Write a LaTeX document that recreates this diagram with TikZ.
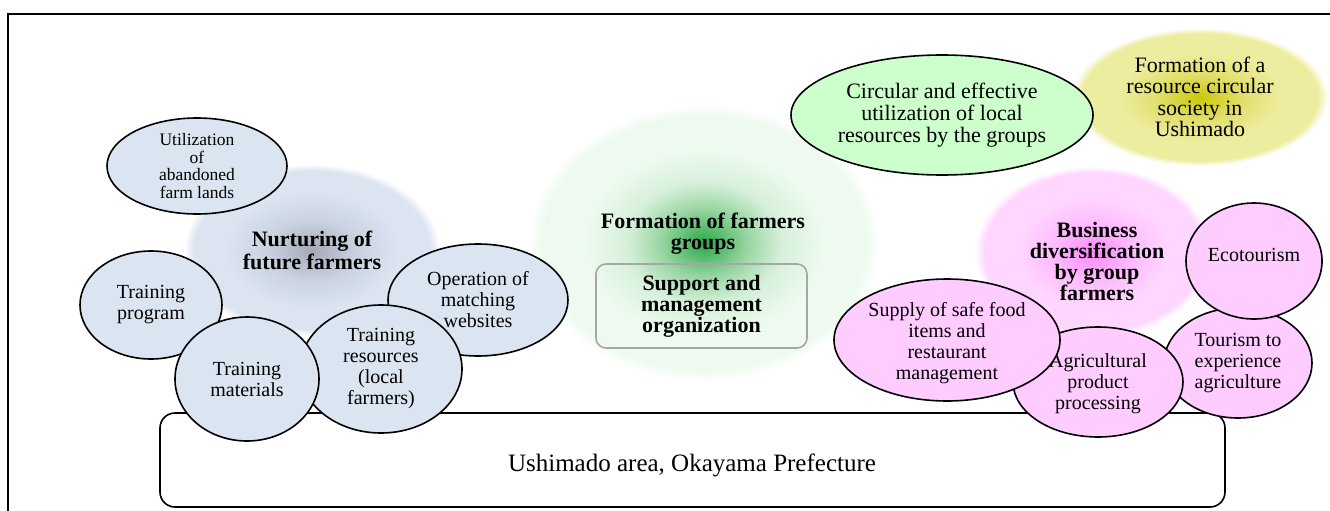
\documentclass[tikz,border=0pt]{standalone}
\usepackage{fontspec}
\setmainfont{Liberation Serif}
\usetikzlibrary{shapes.geometric}
\definecolor{bubblue}{RGB}{219,229,241}
\definecolor{bubpink}{RGB}{255,204,255}
\definecolor{bubgreen}{RGB}{204,255,204}
\definecolor{nurtC}{RGB}{164,169,184}
\definecolor{nurtM}{RGB}{203,211,225}
\definecolor{nurtL}{RGB}{219,228,240}
\definecolor{grnC}{RGB}{40,168,72}
\definecolor{grnM}{RGB}{150,212,160}
\definecolor{grnN}{RGB}{214,240,218}
\definecolor{grnL}{RGB}{238,250,239}
\definecolor{yelC}{RGB}{204,200,10}
\definecolor{yelM}{RGB}{224,222,105}
\definecolor{yelL}{RGB}{237,237,160}
\definecolor{pnkC}{RGB}{250,135,250}
\definecolor{pnkM}{RGB}{255,185,255}
\definecolor{pnkL}{RGB}{255,214,255}
\pgfdeclareradialshading{nurtshade}{\pgfpointorigin}{color(0bp)=(nurtC); color(9bp)=(nurtM); color(17bp)=(nurtL); color(23bp)=(nurtL); color(25bp)=(white); color(50bp)=(white)}
\pgfdeclareradialshading{grnshade}{\pgfpointorigin}{color(0bp)=(grnC); color(6bp)=(grnM); color(11bp)=(grnN); color(17bp)=(grnL); color(23bp)=(grnL); color(25bp)=(white); color(50bp)=(white)}
\pgfdeclareradialshading{yelshade}{\pgfpointorigin}{color(0bp)=(yelC); color(8bp)=(yelM); color(16bp)=(yelL); color(23bp)=(yelL); color(25bp)=(white); color(50bp)=(white)}
\pgfdeclareradialshading{pnkshade}{\pgfpointorigin}{color(0bp)=(pnkC); color(8bp)=(pnkM); color(16bp)=(pnkL); color(23bp)=(pnkL); color(25bp)=(white); color(50bp)=(white)}
\tikzset{
  bub/.style={ellipse, draw=black, line width=1.6, inner sep=0pt, align=center, font=\fontsize{20}{21}\selectfont},
  bluebub/.style={bub, fill=bubblue},
  pinkbub/.style={bub, fill=bubpink},
  blob/.style={ellipse, inner sep=0pt, align=center, font=\fontsize{22}{23}\selectfont\bfseries},
  titletext/.style={align=center, inner sep=0pt, font=\fontsize{22}{21}\selectfont\bfseries},
  plaintext/.style={align=center, inner sep=0pt, font=\fontsize{20}{21}\selectfont},
  groundbox/.style={draw=black, line width=1.6, rounded corners=15, inner sep=0pt},
  orgbox/.style={draw=black!35, line width=1.6, rounded corners=10, inner sep=0pt, align=center, font=\fontsize{22}{21}\selectfont\bfseries},
}
\begin{document}
\begin{tikzpicture}[x=1pt,y=-1pt]
\useasboundingbox (0,0) rectangle (1330,511);
% frame
\coordinate (fbl) at (8,530);
\coordinate (ftl) at (8,14);
\coordinate (ftr) at (1345,14);
\draw[line width=1.6] (fbl) -- (ftl) -- (ftr);
% ground
\node[groundbox, minimum width=1065, minimum height=94] (ground) at (692.5,460) {};
\node[font=\fontsize{25}{26}\selectfont, inner sep=0pt] (groundtext) at (692,465) {Ushimado area, Okayama Prefecture};
% soft blobs
\node[blob, shade, shading=nurtshade, minimum width=256, minimum height=172] (nurt) at (312,250) {Nurturing of\\future farmers};
\node[blob, shade, shading=grnshade, minimum width=352, minimum height=276] (grp) at (704,243) {};
\node[titletext] (grptext) at (703,234) {Formation of farmers\\groups};
\node[orgbox, minimum width=211, minimum height=84] (org) at (701.5,306) {Support and\\management\\organization};
\node[blob, shade, shading=yelshade, minimum width=256, minimum height=138, font=\fontsize{22}{21.5}\selectfont] (soc) at (1200,97) {Formation of a\\resource circular\\society in\\Ushimado};
\node[blob, shade, shading=pnkshade, minimum width=236, minimum height=172] (biz) at (1093,252) {};
\node[titletext] (biztext) at (1097,261) {Business\\diversification\\by group\\farmers};
% left cluster
\node[bluebub, minimum width=180, minimum height=96, font=\fontsize{17.5}{17.5}\selectfont] (util) at (197,166) {Utilization\\of\\abandoned\\farm lands};
\node[bluebub, minimum width=142, minimum height=108] (prog) at (151,305) {Training\\program};
\node[bluebub, minimum width=180, minimum height=112] (oper) at (478,300) {Operation of\\matching\\websites};
\node[bluebub, minimum width=162, minimum height=128] (res) at (381,369) {Training\\resources\\(local\\farmers)};
\node[bluebub, minimum width=144, minimum height=124] (mat) at (247,379) {Training\\materials};
% top right
\node[bub, fill=bubgreen, minimum width=302, minimum height=120, font=\fontsize{22}{22}\selectfont] (circ) at (942,115) {Circular and effective\\utilization of local\\resources by the groups};
% right cluster
\node[pinkbub, minimum width=148, minimum height=110] (tour) at (1238,363) {Tourism to\\experience\\agriculture};
\node[pinkbub, minimum width=136, minimum height=116] (eco) at (1254,261) {};
\node[plaintext] (ecotext) at (1254,255) {Ecotourism};
\node[pinkbub, minimum width=170, minimum height=110] (agri) at (1098,382) {};
\node[plaintext] (agritext) at (1098,384) {Agricultural\\product\\processing};
\node[pinkbub, minimum width=226, minimum height=122] (supply) at (947,340) {};
\node[plaintext] (supplytext) at (947,343) {Supply of safe food\\items and\\restaurant\\management};
\end{tikzpicture}
\end{document}
